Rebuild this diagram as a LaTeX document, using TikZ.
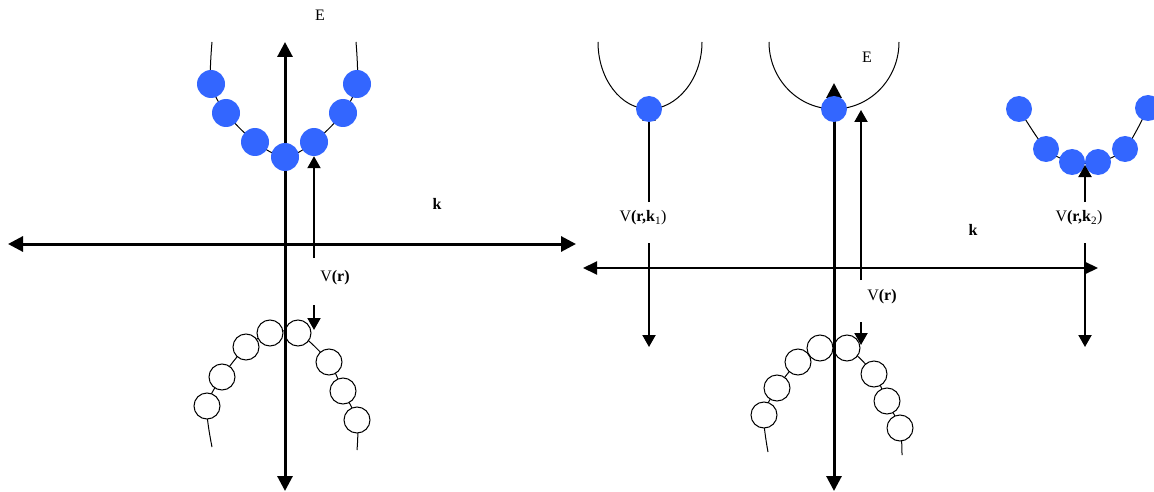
\documentclass[tikz,border=0pt]{standalone}
\usepackage{fontspec}
\setmainfont{Liberation Serif}
\usetikzlibrary{arrows.meta}
\definecolor{ballblue}{RGB}{51,102,255}

\begin{document}
\begin{tikzpicture}[
		x=1pt, y=-1pt,
		axis/.style={line width=3pt, {Triangle[length=15pt,width=15pt]}-{Triangle[length=15pt,width=15pt]}},
		thinaxis/.style={line width=2pt, {Triangle[length=14pt,width=13pt]}-{Triangle[length=14pt,width=13pt]}},
		vline/.style={line width=2pt, -{Triangle[length=12pt,width=13pt]}},
		band/.style={line width=1pt},
		lbl/.style={font=\fontsize{16}{19}\selectfont, inner sep=0pt},
		blueball/.style={circle, fill=ballblue, minimum size=28pt, inner sep=0pt},
		smallball/.style={blueball, minimum size=26pt},
		whiteball/.style={circle, draw, line width=1pt, fill=white, minimum size=26pt, inner sep=0pt},
	]
	\useasboundingbox (0,0) rectangle (1154,492);

	% ---------- panel (a): V(r) ----------
	\foreach \x/\y [count=\i] in {211/84, 226/113, 255/142, 285/157, 314/142, 343/113, 357/84}
		\coordinate (lb\i) at (\x,\y);
	\foreach \x/\y [count=\i] in {207/406, 222/377, 246/347, 270/333, 298/333, 329/362, 343/391, 357/420}
		\coordinate (lw\i) at (\x,\y);
	\draw[band] plot[smooth] coordinates {(212,42) (lb1) (lb2) (lb3) (lb4) (lb5) (lb6) (lb7) (356,42)};
	\draw[band] plot[smooth] coordinates {(212,447) (lw1) (lw2) (lw3) (lw4) (lw5) (lw6) (lw7) (lw8) (357,450)};
	\foreach \i in {1,...,8}
		\node[whiteball] (lwn\i) at (lw\i) {};

	\coordinate (ltop) at (285,42);
	\coordinate (lbot) at (285,491);
	\coordinate (lleft) at (8,244);
	\coordinate (lright) at (576,244);
	\draw[axis] (lbot) -- (ltop);
	\draw[axis] (lleft) -- (lright);
	\node[lbl] (le) at (320,15) {E};
	\node[lbl] (lk) at (437,204) {\textbf{k}};

	\foreach \i in {1,...,7}
		\node[blueball] (lbn\i) at (lb\i) {};

	\node[lbl] (lvr) at (335,278) {V\textbf{(r)}};
	\coordinate (lv1) at (314,258);
	\coordinate (lv2) at (314,305);
	\coordinate (lv3) at (314,330);
	\draw[vline] (lv1) -- (lbn5);
	\draw[vline] (lv2) -- (lv3);

	% ---------- panel (b): V(r,k) ----------
	\foreach \x/\y [count=\i] in {764/415, 777/388, 798/362, 820/348, 847/348, 874/374, 887/401, 900/428}
		\coordinate (rw\i) at (\x,\y);
	\foreach \x/\y [count=\i] in {1019/109, 1046/149, 1072/162, 1098/162, 1125/149, 1148/108}
		\coordinate (rb\i) at (\x,\y);
	\draw[band] (598,42) .. controls (598,79) and (621,109) .. (649,109)
		.. controls (677,109) and (702,79) .. (702,42);
	\draw[band] (769,42) .. controls (769,79) and (798,109) .. (834,109)
		.. controls (870,109) and (899,79) .. (899,42);
	\draw[band] plot[smooth] coordinates {(rb1) (rb2) (rb3) (rb4) (rb5) (rb6)};
	\draw[band] plot[smooth] coordinates {(768,452) (rw1) (rw2) (rw3) (rw4) (rw5) (rw6) (rw7) (rw8) (902,455)};
	\foreach \i in {1,...,8}
		\node[whiteball] (rwn\i) at (rw\i) {};

	\coordinate (rtop) at (834,83);
	\coordinate (rbot) at (834,491);
	\coordinate (rleft) at (583,268);
	\coordinate (rright) at (1098,268);
	\draw[axis] (rbot) -- (rtop);
	\draw[thinaxis] (rleft) -- (rright);
	\node[lbl] (re) at (867,57) {E};
	\node[lbl] (rk) at (973,230) {\textbf{k}};

	% k_1 valley
	\coordinate (k1v) at (649,109);
	\node[lbl] (rvk1) at (643,218) {V\textbf{(r,k}\textsubscript{1})};
	\coordinate (k1a) at (649,202);
	\coordinate (k1b) at (649,243);
	\coordinate (k1c) at (649,347);
	\draw[vline] (k1a) -- (k1v);
	\draw[vline] (k1b) -- (k1c);
	\node[smallball] (k1ball) at (k1v) {};
	\node[smallball] (k0ball) at (834,109) {};

	% center V(r)
	\node[lbl] (rvr) at (882,297) {V\textbf{(r)}};
	\coordinate (rv1) at (861,280);
	\coordinate (rv2) at (861,110);
	\coordinate (rv3) at (861,322);
	\coordinate (rv4) at (861,345);
	\draw[vline] (rv1) -- (rv2);
	\draw[vline] (rv3) -- (rv4);

	% k_2 valley
	\node[lbl] (rvk2) at (1079,218) {V\textbf{(r,k}\textsubscript{2})};
	\coordinate (k2a) at (1085,202);
	\coordinate (k2t) at (1085,165);
	\coordinate (k2b) at (1085,243);
	\coordinate (k2c) at (1085,347);
	\foreach \i in {1,...,6}
		\node[smallball] (rbn\i) at (rb\i) {};
	\draw[vline] (k2a) -- (k2t);
	\draw[vline] (k2b) -- (k2c);

\end{tikzpicture}
\end{document}
